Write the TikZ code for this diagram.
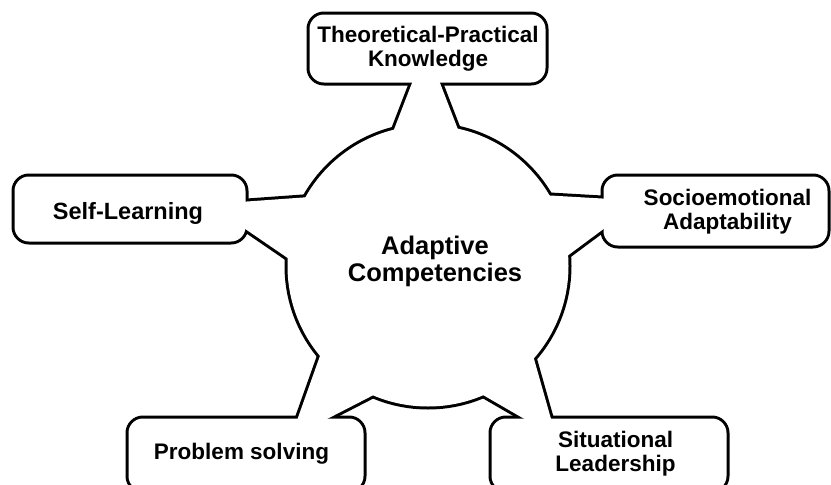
\documentclass[tikz,border=0pt]{standalone}
\usepackage{fontspec}
\setmainfont{Liberation Sans}
\usetikzlibrary{calc}
\newcommand\unionshapes[1]{%
  % boxes
  \foreach \b in {tpk,sl,sa,sld,ps}{
    \path[#1, rounded corners=14.5pt] (\b.south west) rectangle (\b.north east);
  }
  % hub circle
  \path[#1] (hub.center) circle[radius=140.5];
  % connectors (extended into box and hub)
  \path[#1] ($(tlb)!-0.35!(tlc)$) -- ($(tlc)!-0.3!(tlb)$) -- ($(trc)!-0.3!(trb)$) -- ($(trb)!-0.35!(trc)$) -- cycle;
  \path[#1] ($(sub)!-0.35!(suc)$) -- ($(suc)!-0.3!(sub)$) -- ($(slc)!-0.3!(slb)$) -- ($(slb)!-0.35!(slc)$) -- cycle;
  \path[#1] ($(aub)!-0.35!(auc)$) -- ($(auc)!-0.3!(aub)$) -- ($(alc)!-0.3!(alb)$) -- ($(alb)!-0.35!(alc)$) -- cycle;
  \path[#1] ($(dlc)!-0.3!(dlb)$) -- ($(dlb)!-0.6!(dlc)$) -- ($(drb)!-0.35!(drc)$) -- ($(drc)!-0.3!(drb)$) -- cycle;
  \path[#1] ($(plc)!-0.3!(plb)$) -- ($(plb)!-0.35!(plc)$) -- ($(prb)!-0.8!(prc)$) -- ($(prc)!-0.3!(prb)$) -- cycle;
}
\begin{document}
\begin{tikzpicture}[x=1pt,y=-1pt,
  geom/.style={rectangle, draw=none, inner sep=0pt, outer sep=0pt},
  shapestroke/.style={draw=black, line width=6pt, line join=round},
  shapefill/.style={fill=white, draw=none},
  lbl/.style={font=\fontsize{22.5}{24}\selectfont\bfseries, align=center, inner sep=0pt, text=black}]
\useasboundingbox (0,0) rectangle (831,485);
\fill[white] (0,0) rectangle (831,485);
% geometry of boxes and hub
\node[geom, minimum width=236pt, minimum height=68pt] (tpk) at (427.5,48.5) {};
\node[geom, minimum width=231pt, minimum height=65pt] (sl) at (130,209) {};
\node[geom, minimum width=224pt, minimum height=69pt] (sa) at (715.5,211) {};
\node[geom, minimum width=235pt, minimum height=72pt] (sld) at (609,454.5) {};
\node[geom, minimum width=235pt, minimum height=72pt] (ps) at (246,454.5) {};
\node[geom, circle, minimum size=281pt] (hub) at (428,266) {};
% connector end points (b: at box, c: at hub)
\coordinate (tlb) at (411.4,84.5);  \coordinate (tlc) at (394.4,128.5);
\coordinate (trb) at (440.6,84.5);  \coordinate (trc) at (457.6,128.5);
\coordinate (sub) at (247,201.5);   \coordinate (suc) at (303,197.5);
\coordinate (slb) at (247.85,230.76); \coordinate (slc) at (285.85,256.76);
\coordinate (aub) at (602,198.5);   \coordinate (auc) at (550,195.5);
\coordinate (alb) at (601.1,230.8); \coordinate (alc) at (570.1,253.8);
\coordinate (dlb) at (518.75,415.7); \coordinate (dlc) at (480.75,393.7);
\coordinate (drb) at (550.56,417.41); \coordinate (drc) at (533.56,357.41);
\coordinate (plb) at (298.41,416.5); \coordinate (plc) at (319.41,357.5);
\coordinate (prb) at (337.31,413.67); \coordinate (prc) at (372.31,395.67);
% outline of the union: thick stroke, then white fill
\unionshapes{shapestroke}
\unionshapes{shapefill}
% labels
\node[lbl] (tpkt) at (428,49.2) {Theoretical-Practical\\Knowledge};
\node[lbl, font=\fontsize{23.5}{25}\selectfont\bfseries] (slt) at (128,213) {Self-Learning};
\node[lbl] (sat) at (727.5,211.6) {Socioemotional\\Adaptability};
\node[lbl] (sldt) at (615.5,454) {Situational\\Leadership};
\node[lbl] (pst) at (241.5,454) {Problem solving};
\node[lbl, font=\fontsize{25.5}{27}\selectfont\bfseries] (hubt) at (435,261) {Adaptive\\Competencies};
\end{tikzpicture}
\end{document}
